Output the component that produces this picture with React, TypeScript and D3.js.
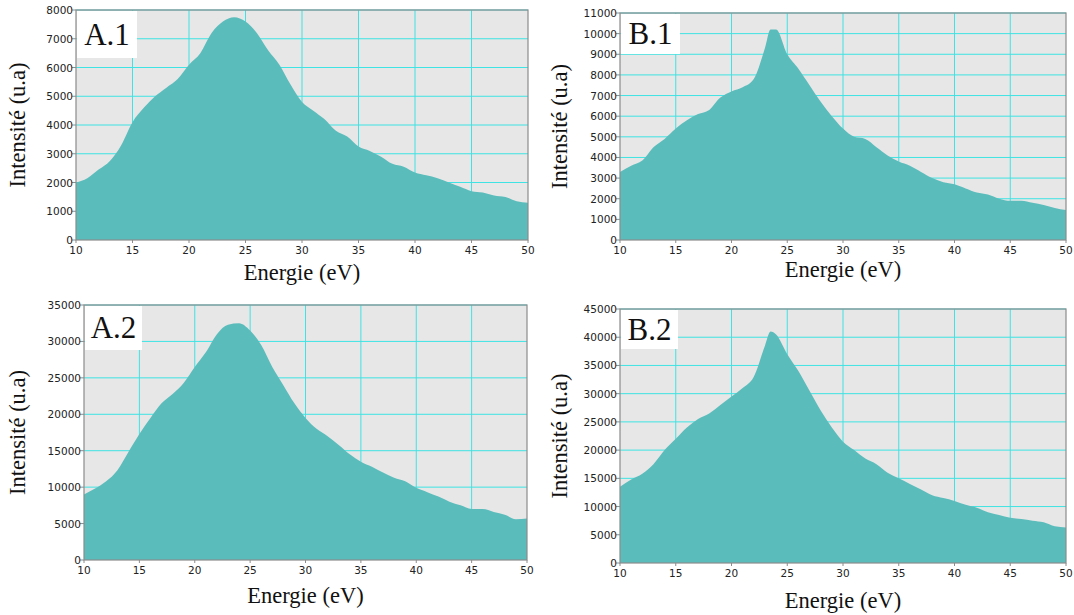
import React from "react";
import * as d3 from "d3";

const energies = [10,11,12,13,14,15,16,17,18,19,20,21,22,23,24,25,26,27,28,29,30,31,32,33,34,35,36,37,38,39,40,41,42,43,44,45,46,47,48,49,50];
const energiesB = [10,11,12,13,14,15,16,17,18,19,20,21,22,23,23.5,24,25,26,27,28,29,30,31,32,33,34,35,36,37,38,39,40,41,42,43,44,45,46,47,48,49,50];

const seriesA1 = [2000,2150,2450,2750,3300,4100,4600,5000,5300,5600,6100,6500,7200,7600,7750,7600,7200,6600,6100,5400,4800,4500,4200,3800,3600,3250,3100,2900,2650,2550,2350,2250,2150,2000,1850,1700,1650,1550,1500,1350,1300];
const seriesB1 = [3300,3600,3850,4500,4900,5400,5800,6100,6300,6900,7200,7400,7800,9300,10200,10200,9000,8300,7500,6700,6000,5400,5000,4900,4500,4100,3800,3600,3300,3000,2800,2700,2500,2300,2200,2000,1900,1900,1800,1700,1550,1450];
const seriesA2 = [9000,9800,10800,12300,14800,17300,19500,21500,22800,24300,26500,28500,31000,32300,32500,31500,29500,26500,24000,21500,19500,18000,17000,15800,14500,13500,12800,12000,11300,10800,9900,9300,8700,8000,7500,7000,7000,6600,6200,5600,5700];
const seriesB2 = [13500,14800,15800,17500,20000,22000,24000,25500,26500,28000,29500,31000,33000,38500,41000,40500,37000,34000,30500,27000,24000,21500,20000,18500,17500,16000,15000,14000,13000,12000,11500,11000,10300,9800,9000,8500,8000,7800,7500,7200,6500,6300];

const xTicks = [10,15,20,25,30,35,40,45,50];
const yTicksA1 = [0,1000,2000,3000,4000,5000,6000,7000,8000];
const yTicksB1 = [0,1000,2000,3000,4000,5000,6000,7000,8000,9000,10000,11000];
const yTicksA2 = [0,5000,10000,15000,20000,25000,30000,35000];
const yTicksB2 = [0,5000,10000,15000,20000,25000,30000,35000,40000,45000];

const panelNames = ["A.1","B.1","A.2","B.2"];

interface Panel {
  name: string; xs: number[]; ys: number[]; yTicks: number[];
  left: number; right: number; top: number; bottom: number;
  yLabelX: number; xLabelY: number; boxW: number; boxH: number;
}

const panels: Panel[] = [
  { name: panelNames[0], xs: energies, ys: seriesA1, yTicks: yTicksA1, left: 76, right: 528, top: 10, bottom: 240, yLabelX: 25, xLabelY: 280, boxW: 60, boxH: 47 },
  { name: panelNames[1], xs: energiesB, ys: seriesB1, yTicks: yTicksB1, left: 620, right: 1066, top: 13, bottom: 240, yLabelX: 567, xLabelY: 277, boxW: 59, boxH: 40 },
  { name: panelNames[2], xs: energies, ys: seriesA2, yTicks: yTicksA2, left: 84, right: 527, top: 305, bottom: 560, yLabelX: 25, xLabelY: 603, boxW: 57, boxH: 44 },
  { name: panelNames[3], xs: energiesB, ys: seriesB2, yTicks: yTicksB2, left: 620, right: 1066, top: 309, bottom: 563, yLabelX: 567, xLabelY: 608, boxW: 57, boxH: 39 },
];

const FILL = "#5bbcbc";
const GRID = "#3fe3e3";
const BG = "#e7e7e7";
const FRAME = "#8c8c8c";
const SANS = "'DejaVu Sans', Verdana, sans-serif";
const SERIF = "'Liberation Serif', 'Times New Roman', serif";

function PanelView({ p }: { p: Panel }) {
  const x = d3.scaleLinear().domain([10, 50]).range([p.left, p.right]);
  const ymax = p.yTicks[p.yTicks.length - 1];
  const y = d3.scaleLinear().domain([0, ymax]).range([p.bottom, p.top]);
  const data = p.xs.map((e, i) => [e, p.ys[i]] as [number, number]);
  const area = d3.area<[number, number]>().x(d => x(d[0])).y0(y(0)).y1(d => y(d[1])).curve(d3.curveMonotoneX);
  const cx = (p.left + p.right) / 2;
  const cy = (p.top + p.bottom) / 2;
  return (
    <g>
      <rect x={p.left} y={p.top} width={p.right - p.left} height={p.bottom - p.top} fill={BG} />
      {xTicks.slice(1, -1).map(t => (
        <line key={"gx" + t} x1={x(t)} x2={x(t)} y1={p.top} y2={p.bottom} stroke={GRID} strokeWidth={1} />
      ))}
      {p.yTicks.slice(1).map(t => (
        <line key={"gy" + t} x1={p.left} x2={p.right} y1={y(t)} y2={y(t)} stroke={GRID} strokeWidth={1} />
      ))}
      <path d={area(data) || ""} fill={FILL} />
      <rect x={p.left + 1} y={p.top + 1} width={p.boxW} height={p.boxH} fill="#ffffff" />
      <text x={p.left + 1 + p.boxW / 2} y={p.top + p.boxH / 2 + 11} textAnchor="middle" fontFamily={SERIF} fontSize={31} fill="#111">{p.name}</text>
      <rect x={p.left} y={p.top} width={p.right - p.left} height={p.bottom - p.top} fill="none" stroke={FRAME} strokeWidth={1.2} />
      {p.yTicks.map(t => (
        <g key={"ty" + t}>
          <line x1={p.left - 4} x2={p.left} y1={y(t)} y2={y(t)} stroke={FRAME} />
          <text x={p.left - 3} y={y(t) + 4} textAnchor="end" fontFamily={SANS} fontSize={10.5} fill="#222">{t}</text>
        </g>
      ))}
      {xTicks.map(t => (
        <g key={"tx" + t}>
          <line x1={x(t)} x2={x(t)} y1={p.bottom} y2={p.bottom + 3} stroke={FRAME} />
          <text x={x(t)} y={p.bottom + 14} textAnchor="middle" fontFamily={SANS} fontSize={10.5} fill="#222">{t}</text>
        </g>
      ))}
      <text x={cx} y={p.xLabelY} textAnchor="middle" fontFamily={SERIF} fontSize={22.5} fill="#111">Energie (eV)</text>
      <text transform={`translate(${p.yLabelX},${cy}) rotate(-90)`} textAnchor="middle" fontFamily={SERIF} fontSize={22.5} fill="#111">Intensité (u.a)</text>
    </g>
  );
}

export default function App() {
  return (
    <svg width={1074} height={615} style={{ position: "absolute", left: 0, top: 0, background: "#fff" }}>
      {panels.map(p => <PanelView key={p.name} p={p} />)}
    </svg>
  );
}
